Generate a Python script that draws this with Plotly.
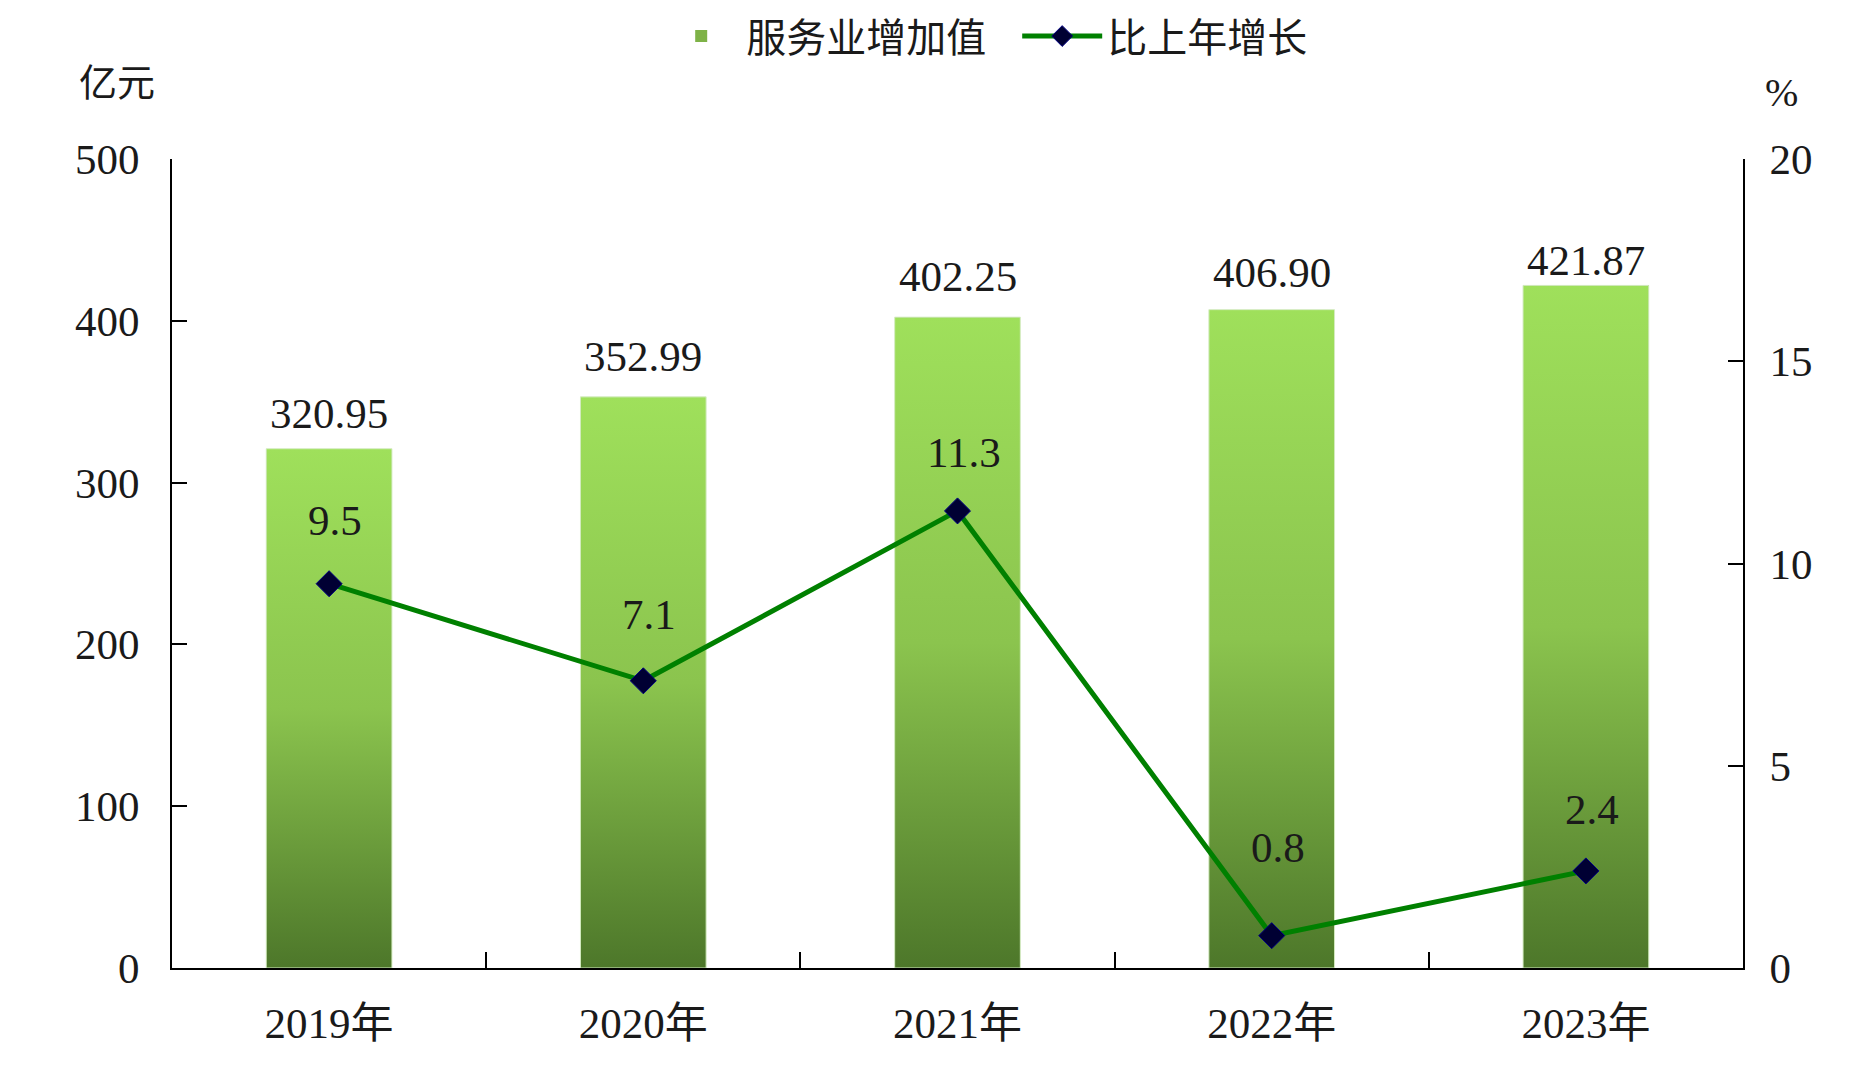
import plotly.graph_objects as go

# ---- data ----
categories = ["2019年", "2020年", "2021年", "2022年", "2023年"]
service_value = [320.95, 352.99, 402.25, 406.90, 421.87]
growth_rate = [9.5, 7.1, 11.3, 0.8, 2.4]
bar_name = "服务业增加值"
line_name = "比上年增长"

# ---- style ----
FONT = "Liberation Serif, Times New Roman, Noto Sans CJK SC, serif"
TXT = "#1a1a1a"
BAR_W = 0.4
GRAD = [[0, "#4d772a"], [0.5, "#8bc44e"], [1, "#9fe05b"]]
bar_label_shift = [35, 40, 41, 37, 25]
line_label_shift = [63, 66, 58, 88, 61]
NUM_SIZE = 43

idx = list(range(len(categories)))

fig = go.Figure()

# bar trace (data carrier + legend entry)
fig.add_trace(go.Bar(
    x=idx, y=service_value, width=BAR_W, name=bar_name,
    marker=dict(color="#7eb247", line=dict(width=0)),
    yaxis="y", showlegend=True,
))

# gradient overlay for each bar, built from the same data
for i, v in zip(idx, service_value):
    fig.add_trace(go.Scatter(
        x=[i - BAR_W / 2, i + BAR_W / 2, i + BAR_W / 2, i - BAR_W / 2, i - BAR_W / 2],
        y=[0, 0, v, v, 0],
        mode="lines", fill="toself",
        line=dict(width=1, color="#d6ecc4"),
        fillgradient=dict(type="vertical", colorscale=GRAD),
        showlegend=False, hoverinfo="skip", yaxis="y",
    ))

# growth line
fig.add_trace(go.Scatter(
    x=idx, y=growth_rate, name=line_name, yaxis="y2",
    mode="lines+markers",
    line=dict(color="#008000", width=5),
    marker=dict(symbol="diamond", size=20, color="#000033",
                line=dict(color="#000080", width=1)),
))

annotations = []
for i, v, s in zip(idx, service_value, bar_label_shift):
    annotations.append(dict(
        x=i, y=v, xref="x", yref="y", text=f"{v:.2f}", showarrow=False,
        yanchor="middle", yshift=s, font=dict(family=FONT, size=NUM_SIZE, color=TXT),
    ))
for i, v, s in zip(idx, growth_rate, line_label_shift):
    annotations.append(dict(
        x=i, y=v, xref="x", yref="y2", text=f"{v}", showarrow=False,
        yanchor="middle", yshift=s, xshift=6, font=dict(family=FONT, size=NUM_SIZE, color=TXT),
    ))
annotations.append(dict(
    x=-0.035, y=1.094, xref="paper", yref="paper", text="亿元", showarrow=False,
    xanchor="center", yanchor="middle", font=dict(family=FONT, size=38, color=TXT),
))
annotations.append(dict(
    x=1.0248, y=1.082, xref="paper", yref="paper", text="%", showarrow=False,
    xanchor="center", yanchor="middle", font=dict(family=FONT, size=40, color=TXT),
))

axis_common = dict(
    showline=True, linecolor="black", linewidth=2, showgrid=False, zeroline=False,
    ticks="inside", ticklen=15, tickwidth=2, tickcolor="black", automargin=False,
    tickfont=dict(family=FONT, size=NUM_SIZE, color=TXT),
)

fig.update_layout(
    width=1869, height=1070,
    margin=dict(l=164, r=134, t=151, b=110, autoexpand=False),
    paper_bgcolor="white", plot_bgcolor="white",
    font=dict(family=FONT, color=TXT),
    xaxis=dict(
        range=[-0.5, len(categories) - 0.5],
        tickmode="array", tickvals=idx, ticktext=categories,
        showline=True, linecolor="black", linewidth=2, showgrid=False, zeroline=False,
        ticks="", ticklabelstandoff=16, automargin=False,
        tickfont=dict(family=FONT, size=NUM_SIZE, color=TXT),
        minor=dict(tickmode="array", tickvals=[i + 0.5 for i in idx[:-1]],
                   ticks="inside", ticklen=16, tickwidth=2, tickcolor="black",
                   showgrid=False),
    ),
    yaxis=dict(range=[0, 500], dtick=100, tick0=0, ticklabelstandoff=22, **axis_common),
    yaxis2=dict(range=[0, 20], dtick=5, tick0=0, overlaying="y", side="right",
                ticklabelstandoff=16, **axis_common),
    legend=dict(
        orientation="h", x=0.538, xanchor="center", y=1.152, yanchor="middle",
        font=dict(family=FONT, size=40, color=TXT), bgcolor="rgba(0,0,0,0)",
        traceorder="normal", itemwidth=80, entrywidth=266,
    ),
    annotations=annotations,
    bargap=0,
)

fig.write_html("out.html")
